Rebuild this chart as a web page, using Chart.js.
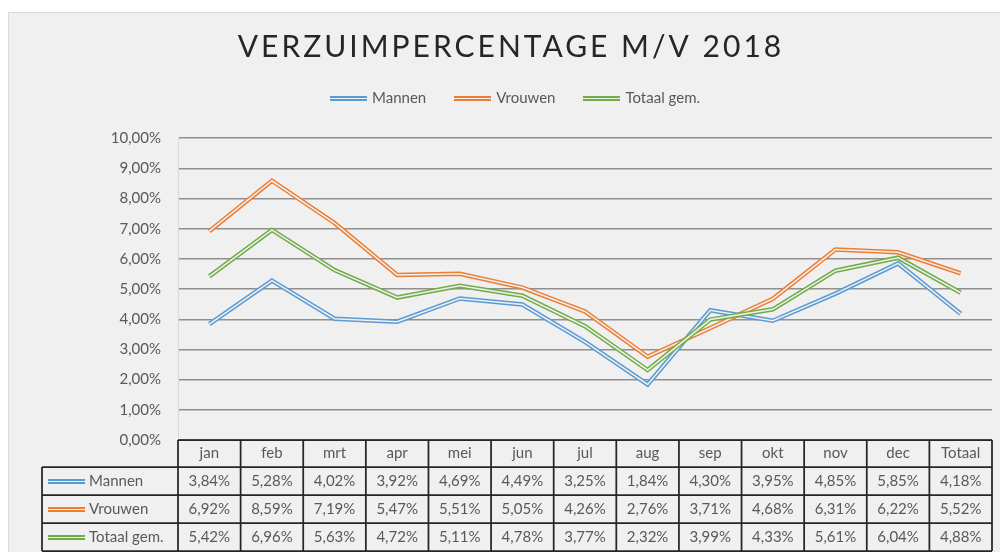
<!DOCTYPE html>
<html lang="nl">
<head>
  <meta charset="UTF-8" />
  <title>Verzuimpercentage M/V 2018</title>
  <script src="https://cdn.jsdelivr.net/npm/chart.js"></script>
  <style>
    body { margin: 0; background: #fff; }
    canvas { display: block; }
  </style>
</head>
<body>
  <canvas id="grafiek" width="1000" height="552"></canvas>

  <script>
    const titel = 'VERZUIMPERCENTAGE M/V 2018';
    const maanden = ['jan', 'feb', 'mrt', 'apr', 'mei', 'jun', 'jul', 'aug', 'sep', 'okt', 'nov', 'dec', 'Totaal'];
    const reeksNamen = ['Mannen', 'Vrouwen', 'Totaal gem.'];
    const mannen = [3.84, 5.28, 4.02, 3.92, 4.69, 4.49, 3.25, 1.84, 4.30, 3.95, 4.85, 5.85, 4.18];
    const vrouwen = [6.92, 8.59, 7.19, 5.47, 5.51, 5.05, 4.26, 2.76, 3.71, 4.68, 6.31, 6.22, 5.52];
    const totaalGem = [5.42, 6.96, 5.63, 4.72, 5.11, 4.78, 3.77, 2.32, 3.99, 4.33, 5.61, 6.04, 4.88];

    const kleuren = ['#5b9bd5', '#ed7d31', '#70ad47'];
    const achtergrond = '#f0f0f0';
    const tekstKleur = '#595959';
    const lettertype = { family: 'Lato', size: 15 };

    const procent = v => Number(v).toFixed(2).replace('.', ',') + '%';

    // dubbele lijn zoals in Excel, voor legenda en tabel
    function dubbeleLijn(kleur) {
      const c = document.createElement('canvas');
      c.width = 37;
      c.height = 5;
      const g = c.getContext('2d');
      g.fillStyle = kleur;
      g.fillRect(0, 0, 37, 2);
      g.fillRect(0, 3, 37, 2);
      return c;
    }

    const reeksData = [mannen, vrouwen, totaalGem];
    const symbolen = kleuren.map(dubbeleLijn);

    const datasets = [];
    reeksData.forEach((data, i) => {
      datasets.push({
        label: reeksNamen[i],
        data,
        borderColor: kleuren[i],
        borderWidth: 4.5,
        pointRadius: 0,
        pointStyle: symbolen[i],
        order: 5 - 2 * i
      });
      datasets.push({
        label: '',
        data,
        borderColor: achtergrond,
        borderWidth: 1.5,
        pointRadius: 0,
        order: 4 - 2 * i
      });
    });

    const kader = {
      id: 'kader',
      beforeDraw(chart) {
        const ctx = chart.ctx;
        ctx.save();
        ctx.fillStyle = '#fff';
        ctx.fillRect(0, 0, chart.width, chart.height);
        ctx.fillStyle = achtergrond;
        ctx.fillRect(8, 12, chart.width, chart.height);
        ctx.strokeStyle = '#d9d9d9';
        ctx.lineWidth = 1;
        ctx.beginPath();
        ctx.moveTo(8.5, chart.height);
        ctx.lineTo(8.5, 12.5);
        ctx.lineTo(chart.width, 12.5);
        ctx.stroke();
        ctx.restore();
      }
    };

    const koptekst = {
      id: 'koptekst',
      afterDraw(chart) {
        const ctx = chart.ctx;
        ctx.save();
        ctx.font = '30px Lato';
        ctx.letterSpacing = '3px';
        ctx.fillStyle = '#262626';
        ctx.textAlign = 'center';
        ctx.textBaseline = 'middle';
        ctx.fillText(titel, 511, 47);
        ctx.restore();
      }
    };

    // gegevenstabel onder de grafiek
    const tabel = {
      id: 'tabel',
      afterDraw(chart) {
        const ctx = chart.ctx;
        const x = chart.scales.x;
        const colW = (x.right - x.left) / maanden.length;
        const kopBoven = chart.chartArea.bottom;
        const kopH = 27;
        const rijH = 28;
        const links = 42;
        const rijBoven = kopBoven + kopH;
        const onder = rijBoven + rijH * reeksData.length;

        ctx.save();
        ctx.strokeStyle = '#262626';
        ctx.lineWidth = 1.75;
        ctx.beginPath();
        ctx.moveTo(x.left, kopBoven);
        ctx.lineTo(x.right, kopBoven);
        for (let r = 0; r <= reeksData.length; r++) {
          ctx.moveTo(links, rijBoven + r * rijH);
          ctx.lineTo(x.right, rijBoven + r * rijH);
        }
        for (let c = 0; c <= maanden.length; c++) {
          const px = x.left + c * colW;
          ctx.moveTo(px, kopBoven);
          ctx.lineTo(px, onder);
        }
        ctx.moveTo(links, rijBoven);
        ctx.lineTo(links, onder);
        ctx.stroke();

        ctx.font = '15px Lato';
        ctx.fillStyle = tekstKleur;
        ctx.textBaseline = 'middle';
        reeksData.forEach((data, r) => {
          const midden = rijBoven + r * rijH + rijH / 2;
          ctx.drawImage(symbolen[r], 48, Math.round(midden - 2.5));
          ctx.textAlign = 'left';
          ctx.fillText(reeksNamen[r], 89, midden);
          ctx.textAlign = 'center';
          data.forEach((v, i) => {
            ctx.fillText(procent(v), x.getPixelForValue(i), midden);
          });
        });
        ctx.restore();
      }
    };

    new Chart(document.getElementById('grafiek'), {
      type: 'line',
      data: { labels: maanden, datasets },
      options: {
        responsive: false,
        animation: false,
        events: [],
        layout: { padding: { top: 61, left: 40, right: 8, bottom: 0 } },
        elements: { line: { tension: 0 } },
        plugins: {
          tooltip: { enabled: false },
          legend: {
            position: 'top',
            labels: {
              usePointStyle: true,
              pointStyleWidth: 32.5,
              padding: 30,
              color: tekstKleur,
              font: lettertype,
              filter: item => item.text !== '',
              sort: (a, b) => a.datasetIndex - b.datasetIndex
            }
          },
          // lege ruimte tussen legenda en tekengebied
          subtitle: {
            display: true,
            text: '',
            weight: 500,
            font: { size: 1 },
            padding: { top: 0, bottom: 21 }
          }
        },
        scales: {
          x: {
            offset: true,
            grid: { display: false, drawTicks: false },
            border: { display: false },
            ticks: { color: tekstKleur, font: lettertype, padding: 4, maxRotation: 0, autoSkip: false },
            afterFit(s) { s.height = 112; }
          },
          y: {
            min: 0,
            max: 10,
            ticks: { stepSize: 1, padding: 17, color: tekstKleur, font: lettertype, callback: v => procent(v) },
            grid: { color: '#8f8f8f', lineWidth: 1.5, drawTicks: false },
            border: { display: true, color: '#d9d9d9', width: 1 },
            afterFit(s) { s.width = 138; }
          }
        }
      },
      plugins: [kader, koptekst, tabel]
    });
  </script>
</body>
</html>
